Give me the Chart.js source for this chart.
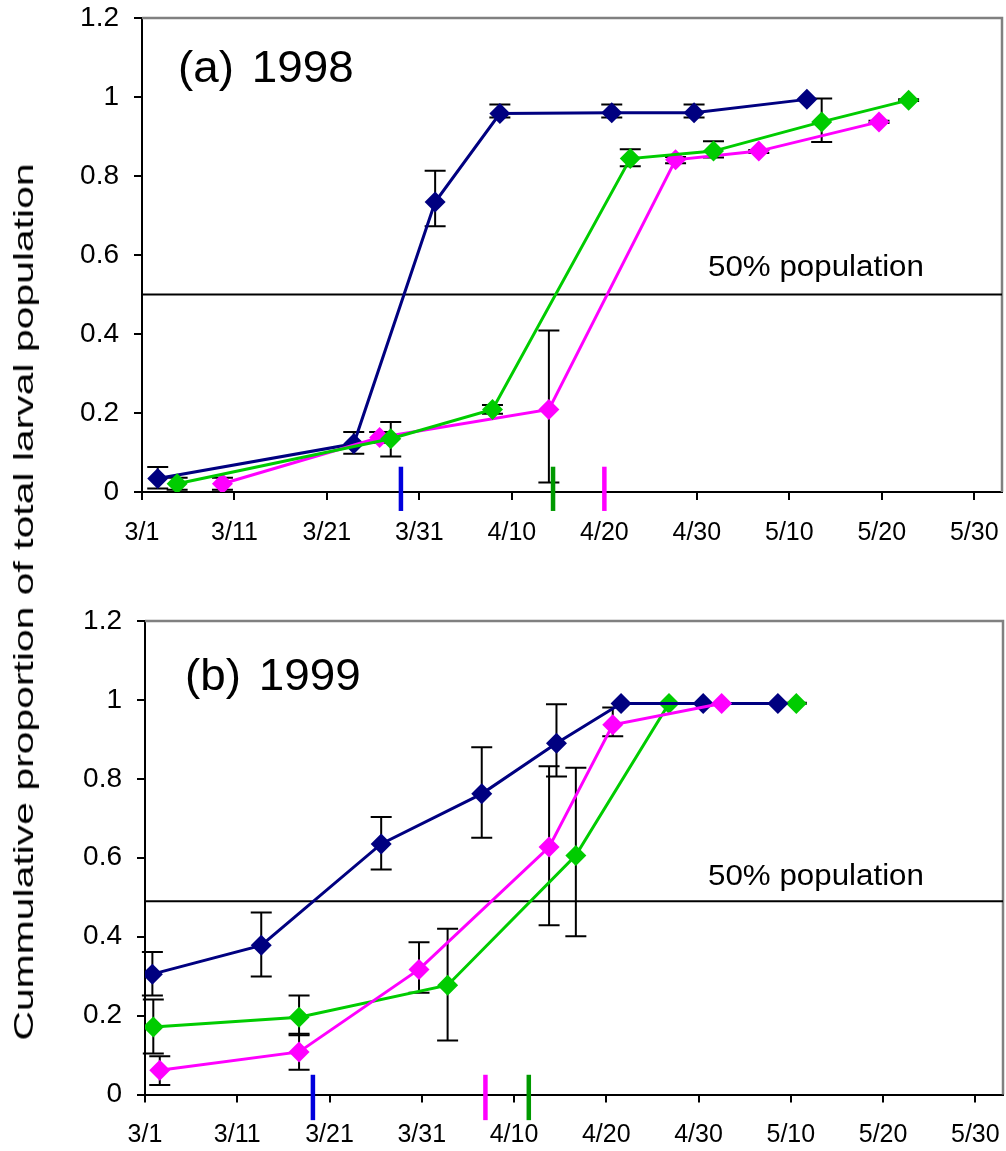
<!DOCTYPE html>
<html>
<head>
<meta charset="utf-8">
<script src="https://cdn.jsdelivr.net/npm/chart.js@4.4.1/dist/chart.umd.min.js"></script>
<style>
  body { margin: 0; background: #fff; font-family: "Liberation Sans", Arial, sans-serif; }
  #page { position: relative; width: 1006px; height: 1151px; overflow: hidden; background: #fff; }
  canvas { position: absolute; left: 0; }
  .txt { position: absolute; white-space: nowrap; color: #000; transform-origin: 0 0; }
  .panel { font-size: 44px; line-height: 44px; word-spacing: 5px; transform: scaleX(1.04); }
  .half { font-size: 29px; line-height: 29px; transform: scaleX(1.08); }
  #ytitle {
    position: absolute; left: 24px; top: 602px; white-space: nowrap;
    font-size: 28px; line-height: 28px;
    transform: translate(-50%, -50%) rotate(-90deg) scaleX(1.46);
  }
</style>
</head>
<body>
<div id="page">
  <canvas id="chartA" width="1006" height="560" style="top:0"></canvas>
  <canvas id="chartB" width="1006" height="551" style="top:600px"></canvas>
  <div id="ytitle">Cummulative proportion of total larval population</div>
  <div class="txt panel" style="left:178px; top:45px">(a) 1998</div>
  <div class="txt half" style="left:708px; top:252px">50% population</div>
  <div class="txt panel" style="left:185px; top:653px">(b) 1999</div>
  <div class="txt half" style="left:708px; top:861px">50% population</div>
</div>
<script>
// x axis = days after 3/1
const tickDays = [0, 10, 20, 30, 40, 50, 60, 70, 80, 90];
const tickLabels = ["3/1", "3/11", "3/21", "3/31", "4/10", "4/20", "4/30", "5/10", "5/20", "5/30"];
const yTickVals = [0, 0.2, 0.4, 0.6, 0.8, 1, 1.2];
const yTickLabels = ["0", "0.2", "0.4", "0.6", "0.8", "1", "1.2"];
const xMin = 0, xMax = 93;

// (a) 1998
const daysBlue98 = [1.7, 22.9, 31.7, 38.7, 50.8, 59.7, 71.9];
const valsBlue98 = [0.034, 0.122, 0.734, 0.958, 0.96, 0.96, 0.994];
const errBlue98 = [[0.009, 0.063], [0.097, 0.152], [0.673, 0.813], [0.948, 0.981], [0.948, 0.981], [0.948, 0.981], null];

const daysGreen98 = [3.8, 26.9, 37.9, 52.8, 61.8, 73.5, 82.9];
const valsGreen98 = [0.021, 0.135, 0.209, 0.844, 0.863, 0.937, 0.992];
const errGreen98 = [[0.006, 0.036], [0.09, 0.177], [0.198, 0.22], [0.825, 0.868], [0.847, 0.888], [0.886, 0.996], [0.99, 0.994]];

const daysPink98 = [8.7, 25.7, 44, 57.7, 66.7, 79.7];
const valsPink98 = [0.021, 0.138, 0.209, 0.841, 0.863, 0.937];
const errPink98 = [[0.006, 0.036], [0.125, 0.152], [0.024, 0.409], [0.832, 0.848], [0.858, 0.866], [0.934, 0.94]];

const half98 = 0.5;
const markDays98 = [28, 44.45, 50];      // blue, green, pink
const markRange98 = [-0.048, 0.064];

// (b) 1999
const daysBlue99 = [0.8, 12.6, 25.6, 36.5, 44.6, 51.6, 60.5, 68.6];
const valsBlue99 = [0.305, 0.378, 0.635, 0.762, 0.89, 0.991, 0.991, 0.991];
const errBlue99 = [[0.251, 0.361], [0.299, 0.461], [0.57, 0.703], [0.651, 0.88], [0.806, 0.989], null, null, null];

const daysPink99 = [1.6, 16.7, 29.7, 43.8, 50.7, 62.5];
const valsPink99 = [0.0615, 0.108, 0.317, 0.627, 0.937, 0.991];
const errPink99 = [[0.024, 0.097], [0.063, 0.154], [0.258, 0.386], [0.429, 0.832], [0.908, 0.981], null];

const daysGreen99 = [0.9, 16.7, 32.8, 46.7, 56.8, 70.6];
const valsGreen99 = [0.171, 0.196, 0.277, 0.606, 0.991, 0.991];
const errGreen99 = [[0.104, 0.241], [0.15, 0.251], [0.137, 0.42], [0.401, 0.828], null, [0.99, 0.993]];

const half99 = 0.49;
const markDays99 = [18.2, 36.9, 41.6];   // blue, pink, green
const markRange99 = [-0.065, 0.05];

const NAVY = "#000080", GREEN = "#00CC00", PINK = "#FF00FF";
const MARK_BLUE = "#0000DD", MARK_GREEN = "#009900";

Chart.defaults.font.family = "'Liberation Sans', Arial, sans-serif";
Chart.defaults.color = "#000";

// gray frame on top/right and black error bars, under the lines
const frameAndErrors = {
  id: "frameAndErrors",
  beforeDatasetsDraw(chart) {
    const { ctx, chartArea: a } = chart;
    const x = chart.scales.x, y = chart.scales.y;
    ctx.save();
    ctx.strokeStyle = "#808080";
    ctx.lineWidth = 2.5;
    ctx.beginPath();
    ctx.moveTo(a.left, a.top);
    ctx.lineTo(a.right, a.top);
    ctx.lineTo(a.right, a.bottom);
    ctx.stroke();

    ctx.strokeStyle = "#000";
    ctx.lineWidth = 2;
    chart.data.datasets.forEach(ds => {
      if (!ds.errorBounds) return;
      ds.data.forEach((p, i) => {
        const b = ds.errorBounds[i];
        if (!b) return;
        const px = x.getPixelForValue(p.x);
        const lo = y.getPixelForValue(b[0]);
        const hi = y.getPixelForValue(b[1]);
        ctx.beginPath();
        ctx.moveTo(px, lo); ctx.lineTo(px, hi);
        ctx.moveTo(px - 10.5, lo); ctx.lineTo(px + 10.5, lo);
        ctx.moveTo(px - 10.5, hi); ctx.lineTo(px + 10.5, hi);
        ctx.stroke();
      });
    });
    ctx.restore();
  }
};

function points(days, vals) {
  return days.map((d, i) => ({ x: d, y: vals[i] }));
}

function seriesLine(days, vals, err, color, order) {
  return {
    data: points(days, vals),
    errorBounds: err,
    borderColor: color,
    backgroundColor: color,
    borderWidth: 3,
    pointStyle: "rectRot",
    pointRadius: 10.5,
    pointBorderWidth: 0,
    pointBackgroundColor: color,
    order: order
  };
}

function markLine(day, range, color) {
  return {
    data: [{ x: day, y: range[0] }, { x: day, y: range[1] }],
    borderColor: color,
    borderWidth: 4.5,
    pointRadius: 0,
    clip: false,
    order: -1
  };
}

function halfLine(v) {
  return {
    data: [{ x: xMin, y: v }, { x: xMax, y: v }],
    borderColor: "#000",
    borderWidth: 2,
    pointRadius: 0,
    order: 10
  };
}

function makeChart(id, datasets, box) {
  return new Chart(document.getElementById(id), {
    type: "line",
    data: { datasets: datasets },
    options: {
      responsive: false,
      animation: false,
      layout: { autoPadding: false, padding: { top: box.top, right: box.right, left: 0, bottom: 0 } },
      plugins: { legend: { display: false }, tooltip: { enabled: false } },
      scales: {
        x: {
          type: "linear",
          min: xMin,
          max: xMax,
          afterBuildTicks: s => { s.ticks = tickDays.map(v => ({ value: v })); },
          afterFit: s => { s.height = box.xAxisH; s.paddingLeft = 0; s.paddingRight = 0; },
          ticks: {
            callback: v => tickLabels[tickDays.indexOf(v)],
            font: { size: 25 },
            color: "#000",
            padding: 18,
            maxRotation: 0,
            autoSkip: false
          },
          grid: { drawOnChartArea: false, drawTicks: true, tickLength: 8, color: "#000", lineWidth: 2 },
          border: { color: "#000", width: 2 }
        },
        y: {
          min: 0,
          max: 1.2,
          afterBuildTicks: s => { s.ticks = yTickVals.map(v => ({ value: v })); },
          afterFit: s => { s.width = box.left; s.paddingTop = 0; s.paddingBottom = 0; },
          ticks: {
            callback: v => yTickLabels[yTickVals.indexOf(v)],
            font: { size: 28 },
            color: "#000",
            padding: 15
          },
          grid: { drawOnChartArea: false, drawTicks: true, tickLength: 8, color: "#000", lineWidth: 2 },
          border: { color: "#000", width: 2 }
        }
      }
    },
    plugins: [frameAndErrors]
  });
}

makeChart("chartA", [
  markLine(markDays98[0], markRange98, MARK_BLUE),
  markLine(markDays98[1], markRange98, MARK_GREEN),
  markLine(markDays98[2], markRange98, PINK),
  seriesLine(daysGreen98, valsGreen98, errGreen98, GREEN, 1),
  seriesLine(daysPink98, valsPink98, errPink98, PINK, 2),
  seriesLine(daysBlue98, valsBlue98, errBlue98, NAVY, 3),
  halfLine(half98)
], { top: 18, right: 4, left: 142, xAxisH: 68 });

makeChart("chartB", [
  markLine(markDays99[0], markRange99, MARK_BLUE),
  markLine(markDays99[1], markRange99, PINK),
  markLine(markDays99[2], markRange99, MARK_GREEN),
  seriesLine(daysPink99, valsPink99, errPink99, PINK, 1),
  seriesLine(daysBlue99, valsBlue99, errBlue99, NAVY, 2),
  seriesLine(daysGreen99, valsGreen99, errGreen99, GREEN, 3),
  halfLine(half99)
], { top: 21, right: 3, left: 145, xAxisH: 56.5 });
</script>
</body>
</html>
